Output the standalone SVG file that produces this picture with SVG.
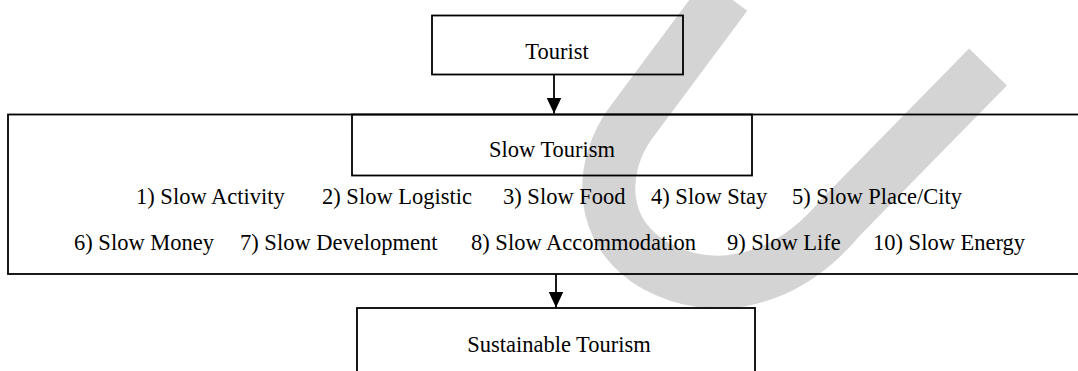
<svg xmlns="http://www.w3.org/2000/svg" width="1078" height="371" viewBox="0 0 1078 371">
<style>
  .box { fill: none; stroke: #000; stroke-width: 1.8; }
  .t { font-family: "Liberation Serif", "Times New Roman", serif; font-size: 22.5px; fill: #000; }
  .c { text-anchor: middle; }
  .conn { stroke: #000; stroke-width: 1.8; fill: none; }
</style>
<defs>
  <marker id="arrow" markerUnits="userSpaceOnUse" markerWidth="16" markerHeight="16" viewBox="0 0 16 16" refX="16" refY="8" orient="auto">
    <path d="M0,0.5 L16,8 L0,15.5 Z" fill="#000"/>
  </marker>
</defs>
<rect x="0" y="0" width="1078" height="371" fill="#fff"/>
<path id="watermark" d="M 726 -5 L 630 124 C 600 166, 596 232, 656 266 C 713 297, 785 284, 840 218 L 988 67" fill="none" stroke="#d4d4d4" stroke-width="53"/>
<g id="tourist">
  <rect class="box" x="432" y="15.5" width="251" height="59"/>
  <text class="t c" x="557" y="59">Tourist</text>
</g>
<g id="slow-tourism-group">
  <rect class="box" x="8" y="114.5" width="1085" height="159.5"/>
</g>
<g id="slow-tourism">
  <rect class="box" x="352" y="114.5" width="400" height="61"/>
  <text class="t c" x="552" y="157">Slow Tourism</text>
</g>
<g id="slow-items">
  <text class="t" x="136" y="204">1) Slow Activity</text>
  <text class="t" x="322" y="204">2) Slow Logistic</text>
  <text class="t" x="503" y="204">3) Slow Food</text>
  <text class="t" x="651" y="204">4) Slow Stay</text>
  <text class="t" x="792" y="204">5) Slow Place/City</text>
  <text class="t" x="74" y="250">6) Slow Money</text>
  <text class="t" x="240" y="250">7) Slow Development</text>
  <text class="t" x="471" y="250">8) Slow Accommodation</text>
  <text class="t" x="727" y="250">9) Slow Life</text>
  <text class="t" x="873" y="250">10) Slow Energy</text>
</g>
<g id="sustainable-tourism">
  <rect class="box" x="357" y="308" width="398" height="80"/>
  <text class="t c" x="559" y="352">Sustainable Tourism</text>
</g>
<g id="connectors">
  <line class="conn" x1="554" y1="74.5" x2="554" y2="113.5" marker-end="url(#arrow)"/>
  <line class="conn" x1="556" y1="274" x2="556" y2="307.5" marker-end="url(#arrow)"/>
</g>
</svg>
